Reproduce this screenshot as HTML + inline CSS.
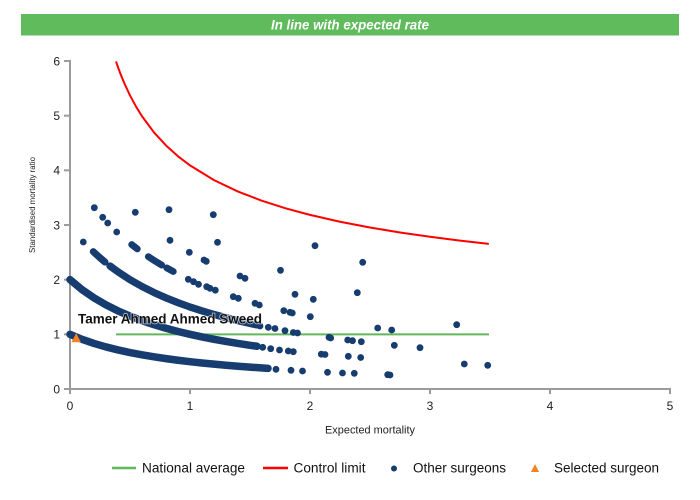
<!DOCTYPE html>
<html>
<head>
<meta charset="utf-8">
<style>
  html,body{margin:0;padding:0;background:#fff;}
  svg{display:block;}
  text{font-family:"Liberation Sans",Arial,sans-serif;}
</style>
</head>
<body>
<svg width="700" height="500" viewBox="0 0 700 500" xmlns="http://www.w3.org/2000/svg">
  <rect x="0" y="0" width="700" height="500" fill="#ffffff"/>
  <rect x="21" y="14" width="658" height="21.5" fill="#60bb5c"/>
  <text x="350" y="29.5" text-anchor="middle" font-size="14" font-weight="bold" font-style="italic" fill="#ffffff" textLength="158" lengthAdjust="spacingAndGlyphs">In line with expected rate</text>

  <g stroke="#9b9b9b" stroke-width="2" fill="none">
    <line x1="70" y1="60" x2="70" y2="390"/>
    <line x1="69" y1="389" x2="671" y2="389"/>
    <line x1="64" y1="61" x2="70" y2="61"/>
    <line x1="64" y1="115.67" x2="70" y2="115.67"/>
    <line x1="64" y1="170.33" x2="70" y2="170.33"/>
    <line x1="64" y1="225" x2="70" y2="225"/>
    <line x1="64" y1="279.67" x2="70" y2="279.67"/>
    <line x1="64" y1="334.33" x2="70" y2="334.33"/>
    <line x1="64" y1="389" x2="70" y2="389"/>
    <line x1="70" y1="389" x2="70" y2="394"/>
    <line x1="190" y1="389" x2="190" y2="394"/>
    <line x1="310" y1="389" x2="310" y2="394"/>
    <line x1="430" y1="389" x2="430" y2="394"/>
    <line x1="550" y1="389" x2="550" y2="394"/>
    <line x1="670" y1="389" x2="670" y2="394"/>
  </g>

  <g font-size="12" fill="#222" text-anchor="end">
    <text x="60" y="65.3">6</text>
    <text x="60" y="120">5</text>
    <text x="60" y="174.6">4</text>
    <text x="60" y="229.3">3</text>
    <text x="60" y="284">2</text>
    <text x="60" y="338.6">1</text>
    <text x="60" y="393.3">0</text>
  </g>
  <g font-size="12" fill="#222" text-anchor="middle">
    <text x="70" y="410">0</text>
    <text x="190" y="410">1</text>
    <text x="310" y="410">2</text>
    <text x="430" y="410">3</text>
    <text x="550" y="410">4</text>
    <text x="670" y="410">5</text>
  </g>

  <text x="370" y="433.3" text-anchor="middle" font-size="11" fill="#222" textLength="90" lengthAdjust="spacingAndGlyphs">Expected mortality</text>
  <text transform="translate(35,205) rotate(-90)" x="0" y="0" text-anchor="middle" font-size="8" fill="#222" textLength="96" lengthAdjust="spacingAndGlyphs">Standardised mortality ratio</text>

  <line x1="116" y1="334.33" x2="489" y2="334.33" stroke="#62b85a" stroke-width="2"/>

  <polyline fill="none" stroke="#ff0000" stroke-width="2" stroke-linejoin="round" points="116,61.4 118,67.26 120.4,73.69 124,82.51 130,95.44 136,106.55 142,116.26 154,132.44 166,145.47 178,156.27 190,165.41 214,180.12 238,191.56 262,200.79 286,208.42 310,214.88 340,221.72 370,227.49 400,232.47 430,236.8 460,240.63 488.8,243.91"/>

  <g fill="none" stroke="#173c70" stroke-linecap="round" stroke-linejoin="round">
    <polyline stroke-width="7.5" points="70,334.33 82,339.3 94,343.44 106,346.95 118,349.95 130,352.56 142,354.83 154,356.84 166,358.63 178,360.23 190,361.67 202,362.97 214,364.15 226,365.23 238,366.22 250,367.13 268,368.37"/>
    <polyline stroke-width="7.5" points="70,279.67 82,289.61 94,297.89 106,304.9 118,310.9 130,316.11 142,320.67 154,324.69 166,328.26 178,331.46 190,334.33 202,336.94 214,339.3 226,341.46 238,343.44 250,345.27 257,346.26"/>
    <polyline stroke-width="7" points="93.3,251.65 99.2,257.06 105,262.07"/>
    <polyline stroke-width="7.3" points="110,266 118,271.86 130,279.67 142,286.5 154,292.53 166,297.89 178,302.68 190,307 202,310.9 214,314.45 226,317.7 238,320.67 250,323.4 257,324.89"/>
    <polyline stroke-width="6.8" points="131.7,244.57 137.3,248.92"/>
    <polyline stroke-width="6.8" points="148.3,256.67 155,260.97 161.7,265.04"/>
    <polyline stroke-width="6.8" points="166.7,267.92 173.3,271.5"/>
  </g>

  <g fill="#173c70">
    <circle cx="94.3" cy="207.7" r="3.4"/>
    <circle cx="102.7" cy="217.3" r="3.4"/>
    <circle cx="107.7" cy="223" r="3.4"/>
    <circle cx="116.7" cy="232" r="3.4"/>
    <circle cx="135.3" cy="212.3" r="3.4"/>
    <circle cx="169" cy="209.7" r="3.4"/>
    <circle cx="213.3" cy="214.7" r="3.4"/>
    <circle cx="83.3" cy="242" r="3.4"/>
    <circle cx="170" cy="240.3" r="3.4"/>
    <circle cx="217.5" cy="242.3" r="3.4"/>
    <circle cx="189.3" cy="252.3" r="3.4"/>
    <circle cx="204" cy="260" r="3.4"/>
    <circle cx="206.3" cy="261.3" r="3.4"/>
    <circle cx="188.3" cy="279.3" r="3.4"/>
    <circle cx="193.5" cy="281.7" r="3.4"/>
    <circle cx="198.5" cy="284.3" r="3.4"/>
    <circle cx="206.7" cy="286.7" r="3.4"/>
    <circle cx="210" cy="288.3" r="3.4"/>
    <circle cx="215.3" cy="290.2" r="3.4"/>
    <circle cx="240" cy="276" r="3.4"/>
    <circle cx="245" cy="278.3" r="3.4"/>
    <circle cx="280.5" cy="270.3" r="3.4"/>
    <circle cx="233.3" cy="296.7" r="3.4"/>
    <circle cx="238.3" cy="298.3" r="3.4"/>
    <circle cx="255" cy="303.3" r="3.4"/>
    <circle cx="259.3" cy="305" r="3.4"/>
    <circle cx="295" cy="294.3" r="3.4"/>
    <circle cx="283.8" cy="310.7" r="3.4"/>
    <circle cx="290" cy="312.3" r="3.4"/>
    <circle cx="292.3" cy="313" r="3.4"/>
    <circle cx="310.3" cy="316.7" r="3.4"/>
    <circle cx="315" cy="245.7" r="3.4"/>
    <circle cx="362.7" cy="262.3" r="3.4"/>
    <circle cx="357.3" cy="292.7" r="3.4"/>
    <circle cx="313.3" cy="299.3" r="3.4"/>
    <circle cx="377.7" cy="328" r="3.4"/>
    <circle cx="391.7" cy="330" r="3.4"/>
    <circle cx="456.7" cy="324.7" r="3.4"/>
    <circle cx="329" cy="337.3" r="3.4"/>
    <circle cx="330.7" cy="338" r="3.4"/>
    <circle cx="347.7" cy="340" r="3.4"/>
    <circle cx="352.5" cy="340.7" r="3.4"/>
    <circle cx="361.3" cy="341.7" r="3.4"/>
    <circle cx="394.3" cy="345.3" r="3.4"/>
    <circle cx="420" cy="347.7" r="3.4"/>
    <circle cx="260" cy="326" r="3.4"/>
    <circle cx="268.3" cy="327.3" r="3.4"/>
    <circle cx="275" cy="328.5" r="3.4"/>
    <circle cx="285" cy="330.7" r="3.4"/>
    <circle cx="293.3" cy="332.5" r="3.4"/>
    <circle cx="297.5" cy="333" r="3.4"/>
    <circle cx="262.7" cy="347.3" r="3.4"/>
    <circle cx="270.7" cy="348.7" r="3.4"/>
    <circle cx="279.5" cy="350" r="3.4"/>
    <circle cx="288.3" cy="351" r="3.4"/>
    <circle cx="293.3" cy="351.7" r="3.4"/>
    <circle cx="321.3" cy="354.2" r="3.4"/>
    <circle cx="325" cy="354.5" r="3.4"/>
    <circle cx="348.3" cy="356.3" r="3.4"/>
    <circle cx="360.7" cy="357.5" r="3.4"/>
    <circle cx="276" cy="369.3" r="3.4"/>
    <circle cx="291" cy="370.3" r="3.4"/>
    <circle cx="302.5" cy="371" r="3.4"/>
    <circle cx="327.5" cy="372.3" r="3.4"/>
    <circle cx="342.5" cy="373" r="3.4"/>
    <circle cx="354.3" cy="373.3" r="3.4"/>
    <circle cx="387.7" cy="374.7" r="3.4"/>
    <circle cx="390" cy="375" r="3.4"/>
    <circle cx="464.3" cy="364" r="3.4"/>
    <circle cx="487.7" cy="365.3" r="3.4"/>
  </g>

  <polygon points="76.2,333 71.5,342.3 80.9,342.3" fill="#f58220"/>

  <text x="78" y="323.5" font-size="13.5" font-weight="bold" fill="#111" stroke="#ffffff" stroke-width="1.5" stroke-opacity="0.7" paint-order="stroke" textLength="184" lengthAdjust="spacingAndGlyphs">Tamer Ahmed Ahmed Sweed</text>

  <line x1="112" y1="468" x2="136" y2="468" stroke="#62b85a" stroke-width="2.5"/>
  <text x="142" y="472.7" font-size="13.5" fill="#111" textLength="103" lengthAdjust="spacingAndGlyphs">National average</text>
  <line x1="263" y1="468" x2="288" y2="468" stroke="#ff0000" stroke-width="2.5"/>
  <text x="293.5" y="472.7" font-size="13.5" fill="#111" textLength="72" lengthAdjust="spacingAndGlyphs">Control limit</text>
  <circle cx="394" cy="468.5" r="3" fill="#173c70"/>
  <text x="413" y="472.7" font-size="13.5" fill="#111" textLength="93" lengthAdjust="spacingAndGlyphs">Other surgeons</text>
  <polygon points="535,464 531,472 539,472" fill="#f58220"/>
  <text x="554" y="472.7" font-size="13.5" fill="#111" textLength="105" lengthAdjust="spacingAndGlyphs">Selected surgeon</text>
</svg>
</body>
</html>
